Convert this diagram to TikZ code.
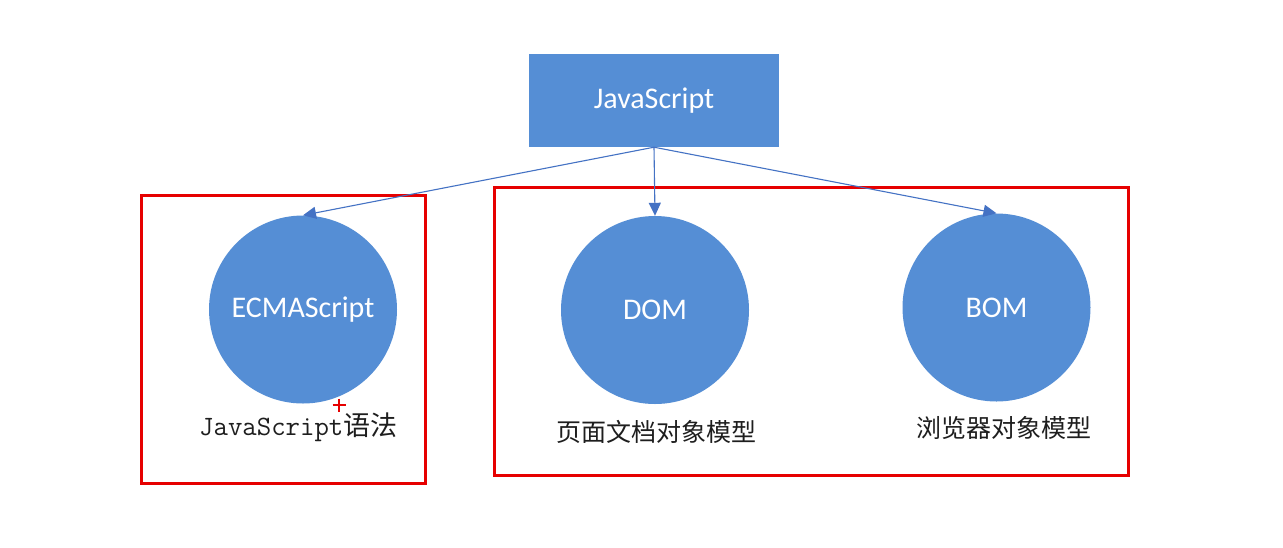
\documentclass[tikz,border=0pt]{standalone}
\usepackage{fontspec}
\setmainfont{Carlito}
\newfontfamily\cjk{Noto Sans CJK SC}
\usetikzlibrary{arrows.meta}
\definecolor{boxblue}{RGB}{85,142,213}
\definecolor{arrowblue}{RGB}{68,114,196}
\definecolor{framered}{RGB}{230,0,0}
\definecolor{labelgray}{RGB}{30,30,30}
\tikzset{
  topbox/.style={fill=boxblue, draw=none, minimum width=250pt, minimum height=93pt, inner sep=0pt, text=white, font=\fontsize{30}{30}\selectfont},
  blob/.style={circle, fill=boxblue, draw=none, minimum size=188pt, inner sep=0pt, text=white, font=\fontsize{30}{30}\selectfont},
  link/.style={draw=arrowblue, line width=1.1pt, -{Triangle[length=13pt,width=12pt]}},
  redframe/.style={draw=framered, line width=3pt},
  caption/.style={text=labelgray, inner sep=0pt, font=\fontsize{25}{25}\selectfont\cjk},
}
\begin{document}
\begin{tikzpicture}[x=1pt,y=-1pt]
\useasboundingbox (0,0) rectangle (1283,547);
\fill[white] (0,0) rectangle (1283,547);
% red frames
\draw[redframe] (141,195) rectangle (425,483);
\draw[redframe] (494,187) rectangle (1128,475);
% nodes
\node[topbox] (js) at (654,100.5) {JavaScript};
\node[blob] (ecma) at (303,309.5) {\raisebox{-3pt}{ECMAScript}};
\node[blob] (dom) at (655,310) {\raisebox{-2pt}{DOM}};
\node[blob] (bom) at (996.5,307.5) {BOM};
% connectors
\draw[link] (js.south) -- (ecma.north);
\draw[link] (js.south) -- (dom.north);
\draw[link] (js.south) -- (bom.north);
% captions
\node[caption, anchor=base west] (ecmacap) at (199,435) {{\ttfamily\fontsize{28}{28}\selectfont JavaScript}{\fontsize{27}{27}\selectfont 语法}};
\node[caption] (domcap) at (656,432) {页面文档对象模型};
\node[caption] (bomcap) at (1003.5,428) {浏览器对象模型};
% cursor mark
\draw[framered, line width=2.2pt] (332.5,405) -- (345.5,405) (339,398.5) -- (339,411.5);
\end{tikzpicture}
\end{document}
